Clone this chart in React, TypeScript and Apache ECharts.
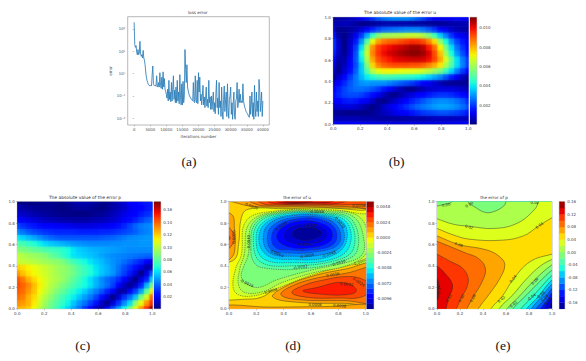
import React, { useEffect, useRef } from "react";
import * as echarts from "echarts";

const FONT = "DejaVu Sans";
const TEXT = "#444";
const SPINE = "#8a8a8a";

// (a) loss curve, one reading every 200 iterations
const lossStep = 200;
const lossValues = [
  200, 20, 15, 18, 9, 7, 12, 7, 8, 28, 8, 6, 7, 5, 11, 5, 4, 2.5, 1.2, 0.7,
  0.5, 0.4, 0.33, 0.3, 0.3, 0.28, 0.3, 0.28, 0.9, 2.2, 0.35, 0.3, 0.28, 0.3, 0.27, 0.8, 0.28, 0.25, 0.4, 0.25,
  1.1, 0.3, 0.22, 0.7, 0.2, 1.2, 0.25, 0.6, 0.2, 0.16, 0.12, 0.08, 0.2, 0.06, 0.5, 0.07, 0.15, 0.055, 0.4, 0.06,
  0.06, 0.8, 0.07, 0.18, 0.05, 0.25, 0.05, 0.5, 0.06, 0.15, 0.045, 0.9, 0.1, 0.04, 0.35, 0.04, 0.45, 0.05, 0.1, 12,
  1.5, 0.4, 2.5, 0.25, 0.17, 0.13, 0.1, 0.09, 0.08, 0.07, 0.065, 0.06, 0.4, 0.055, 0.05, 0.8, 0.06, 0.05, 0.5, 0.045,
  1.1, 0.15, 0.7, 0.06, 0.12, 0.04, 0.1, 0.3, 0.04, 0.09, 0.03, 0.08, 0.25, 0.035, 0.07, 0.03, 0.5, 0.05, 0.09, 0.025,
  0.1, 0.025, 0.06, 0.15, 0.02, 0.05, 0.016, 0.12, 0.5, 0.03, 0.08, 0.015, 0.4, 0.03, 0.06, 0.012, 0.25, 0.02, 0.009, 0.07,
  0.28, 0.02, 0.06, 0.15, 0.012, 0.35, 0.03, 0.01, 0.07, 0.1, 0.25, 0.015, 0.05, 0.009, 0.05, 0.15, 0.012, 0.009, 0.06, 0.08,
  0.4, 0.03, 0.05, 0.2, 0.05, 0.12, 0.05, 0.06, 0.05, 0.35, 0.06, 0.04, 0.03, 0.025, 0.02, 0.018, 0.016, 0.014, 0.012, 0.011,
  0.1, 0.015, 0.04, 0.15, 0.012, 0.05, 0.009, 0.3, 0.03, 0.012, 0.15, 0.02, 0.06, 0.012, 0.55, 0.2, 0.02, 0.05, 0.15, 0.012, 0.06,
];
const lossXTicks = [0, 5000, 10000, 15000, 20000, 25000, 30000, 35000, 40000];

// (b) |error of u| x 1e4; rows run from y=0 to y=1, columns from x=0 to x=1
const absU = [
  [14,14,13,13,12,12,11,11,11,10,10,10,10,10,10,10,10,10,10,10,10,11,11,12,12],
  [5,5,5,5,5,4,4,4,3,3,3,3,3,3,4,4,4,5,6,6,6,6,6,6,5],
  [2,2,1,1,1,1,1,2,4,6,8,10,12,14,16,18,20,21,22,23,23,22,21,19,16],
  [7,8,9,9,8,6,3,1,3,7,10,13,16,19,22,25,27,29,31,32,32,31,29,26,22],
  [12,14,16,17,16,14,11,7,2,1,4,7,10,14,17,20,23,26,28,29,29,28,26,23,18],
  [15,18,21,22,22,21,18,15,11,6,2,1,4,7,9,12,14,16,18,19,19,18,16,14,11],
  [13,17,21,24,26,26,25,23,20,16,12,8,5,2,1,3,5,7,8,9,9,9,8,7,5],
  [7,13,18,23,27,30,31,30,30,30,28,26,24,22,20,17,14,11,8,5,3,2,2,2,2],
  [1,7,14,20,27,34,40,44,47,48,48,47,46,45,44,42,40,37,33,29,23,17,11,6,3],
  [6,2,8,15,24,36,50,64,70,72,72,72,71,70,70,69,67,64,60,55,47,38,28,20,13],
  [10,2,6,13,22,36,56,76,86,90,92,93,93,93,92,92,90,86,81,74,62,50,38,28,20],
  [14,4,4,11,23,40,62,82,92,96,99,101,102,103,104,104,103,100,93,82,68,52,38,27,20],
  [17,6,2,9,22,42,66,86,95,100,103,105,107,109,110,110,108,102,92,78,60,42,30,22,15],
  [19,7,1,8,20,38,62,84,94,98,100,102,104,106,108,108,105,98,88,72,54,38,26,19,13],
  [19,6,1,7,16,30,50,70,82,87,89,90,92,94,96,95,92,85,75,58,42,30,21,16,11],
  [15,3,1,5,11,20,32,46,56,60,61,62,63,65,66,65,62,56,47,36,27,19,14,11,8],
  [8,1,2,3,5,8,12,17,21,24,25,26,27,28,28,28,26,23,19,14,10,7,5,4,3],
  [5,5,6,5,3,1,1,2,3,4,4,4,4,4,3,3,3,2,2,2,3,4,4,5,5],
  [1,3,4,6,8,12,16,20,24,27,29,30,30,30,28,25,21,17,14,12,12,14,15,14,12],
];
const absUScale = 1e-4;
const absURange = [0, 0.0111];
const absUTicks = [0.002, 0.004, 0.006, 0.008, 0.01];

// (c) |error of p| x 1e3; rows run from y=0 to y=1
const absP = [
  [125,123,120,110,100,90,82,75,65,58,50,42,30,20,8,5,20,35,50,65,85,110,130,150,173],
  [132,130,125,115,104,93,85,78,71,64,56,48,42,33,25,12,2,14,30,45,60,90,110,130,150],
  [138,135,125,118,107,98,90,82,75,68,63,56,49,43,34,24,14,1,13,30,40,55,85,105,140],
  [142,138,130,122,112,103,96,88,82,75,69,63,58,50,44,37,28,20,7,6,18,32,50,80,112],
  [145,140,133,123,114,106,99,94,87,82,76,71,66,61,53,47,41,33,20,10,3,11,27,53,85],
  [143,135,125,118,112,106,101,97,93,87,80,74,66,60,53,46,40,36,30,22,12,1,15,27,58],
  [130,122,116,112,108,104,100,96,92,89,84,78,73,68,62,56,52,48,40,33,26,15,1,15,37],
  [120,117,113,110,106,103,99,95,92,89,83,77,72,67,61,56,52,48,42,35,30,24,16,7,8],
  [103,101,100,98,96,94,92,90,87,80,74,70,65,61,57,54,50,47,44,41,37,32,28,20,15],
  [101,98,95,93,91,88,82,78,72,66,61,59,57,55,53,50,48,46,45,44,43,42,41,40,40],
  [88,86,84,81,79,76,74,72,70,66,61,57,55,53,52,51,50,49,48,47,46,46,46,46,46],
  [78,75,71,68,63,59,56,54,52,50,48,47,46,45,45,45,45,46,46,47,47,47,48,48,48],
  [62,58,54,50,46,42,39,37,36,36,36,36,36,36,36,37,38,39,41,43,45,46,47,48,48],
  [45,41,37,34,32,30,29,28,28,28,28,27,27,27,27,28,28,29,31,33,35,38,42,44,46],
  [34,30,27,25,23,21,20,19,18,17,16,15,15,15,16,17,18,20,24,28,33,39,43,45,47],
  [21,18,16,14,12,10,9,8,7,6,6,6,6,7,8,9,10,12,15,19,23,27,32,37,40],
  [13,11,9,7,6,5,4,3,2,2,1,1,1,2,3,4,6,9,12,16,19,22,26,29,32],
  [8,6,5,4,3,3,3,2,1,2,4,5,5,4,2,1,3,6,9,12,17,20,22,25,27],
  [2,1,1,1,3,3,3,2,1,4,6,8,8,7,5,2,3,6,10,13,20,22,24,26,28],
];
const absPScale = 1e-3;
const absPRange = [0.0006, 0.1734];
const absPTicks = [0.02, 0.04, 0.06, 0.08, 0.1, 0.12, 0.14, 0.16];

// (d) error of u: contour levels and contour outlines [level, side, x0,y0,x1,y1,...]
const uLevels = [-0.0112, -0.0104, -0.0096, -0.0088, -0.008, -0.0072, -0.0064, -0.0056, -0.0048, -0.004, -0.0032, -0.0024, -0.0016, -0.0008, 0, 0.0008, 0.0016, 0.0024, 0.0032, 0.004, 0.0048, 0.0056];
const uTicks = [-0.0096, -0.0072, -0.0048, -0.0024, 0, 0.0024, 0.0048];
const uBackgroundBand = 0.0004;
const uContours: [number, number, number[]][] = [
  [0, -1, [.07,.6,.09,.85,.14,.93,.4,.935,.74,.94,.95,.92,1.1,.9,1.1,.47,1,.46,.8,.39,.5,.29,.34,.2,.26,.12,.15,.09,-.1,.12,-.1,.39,.04,.46]],
  [-.0008, -1, [.09,.5,.125,.82,.32,.91,.74,.925,.95,.89,1.1,.85,1.1,.45,.9,.41,.62,.32,.32,.175,.18,.12,.07,.13,.03,.2,.05,.38]],
  [-.0016, -1, [.11,.5,.15,.8,.34,.905,.74,.915,.94,.87,1.02,.7,1.02,.55,.9,.42,.6,.33,.38,.24,.25,.16,.12,.15,.07,.22,.08,.38]],
  [-.0024, -1, [.14,.5,.175,.8,.36,.9,.74,.905,.92,.85,.99,.62,.97,.5,.88,.44,.6,.36,.35,.27,.22,.2,.13,.23,.09,.3,.11,.4]],
  [-.0032, -1, [.16,.55,.195,.8,.38,.895,.72,.895,.9,.83,.94,.55,.82,.44,.5,.37,.26,.38,.19,.42]],
  [-.004, -1, [.18,.58,.215,.8,.4,.89,.7,.89,.88,.82,.91,.56,.78,.45,.45,.4,.24,.43]],
  [-.0048, -1, [.2,.6,.235,.79,.42,.885,.68,.885,.86,.81,.88,.58,.75,.46,.45,.43,.26,.46]],
  [-.0056, -1, [.22,.62,.26,.79,.44,.875,.68,.875,.84,.8,.85,.6,.72,.48,.45,.46,.29,.49]],
  [-.0064, -1, [.25,.65,.29,.79,.46,.87,.68,.865,.82,.78,.83,.6,.7,.51,.45,.49,.3,.52]],
  [-.0072, -1, [.28,.66,.32,.78,.48,.855,.68,.85,.8,.76,.8,.6,.63,.53,.42,.52,.31,.55]],
  [-.008, -1, [.31,.66,.35,.77,.5,.84,.68,.83,.78,.74,.77,.61,.62,.55,.42,.55,.34,.57]],
  [-.0088, -1, [.35,.66,.39,.76,.52,.82,.67,.8,.75,.73,.74,.63,.6,.57,.43,.58]],
  [-.0096, -1, [.4,.67,.44,.75,.54,.79,.65,.78,.72,.72,.7,.65,.6,.61,.47,.61]],
  [-.0104, -1, [.46,.69,.49,.74,.56,.76,.63,.75,.68,.71,.66,.67,.58,.64,.5,.65]],
  [.0008, 1, [.32,.11,.4,.2,.6,.3,.85,.37,1.1,.42,1.1,.05,.85,.05,.5,.06]],
  [.0016, 1, [.38,.13,.44,.2,.62,.28,.85,.33,1.1,.38,1.1,.07,.85,.075,.5,.085]],
  [.0024, 1, [.46,.15,.55,.22,.7,.27,.85,.3,.97,.28,1.05,.2,.97,.11,.8,.1,.58,.105]],
  [.0032, 1, [.54,.165,.65,.2,.8,.245,.9,.22,.93,.16,.85,.13,.68,.135]],
  [.0008, 1, [-.1,.02,.3,.015,.7,.02,1.1,.025,1.1,-.1,-.1,-.1]],
  [.0008, 1, [-.1,.41,.02,.48,.045,.6,.04,.75,.02,.88,-.1,.9]],
  [.0016, 1, [-.1,.5,.025,.6,.025,.72,-.1,.83]],
  [.0024, 1, [-.1,.6,.01,.66,-.1,.74]],
  [.0008, 1, [-.1,1.05,.05,.99,.15,.96,.3,.95,.6,.95,.85,.94,.95,.94,1.1,.93,1.1,1.1,-.1,1.1]],
  [.0016, 1, [.1,1.05,.2,.975,.3,.96,.6,.96,.85,.955,1.1,.95,1.1,1.1,.1,1.1]],
  [.0024, 1, [.17,1.05,.25,.98,.35,.97,.6,.97,.8,.97,.95,.975,1.05,.98,1.1,1.1,.17,1.1]],
  [.0032, 1, [.24,1.05,.32,.985,.6,.98,.8,.985,.92,1.05,.9,1.1,.24,1.1]],
  [.004, 1, [.3,1.05,.38,.99,.6,.99,.74,.995,.82,1.05,.8,1.1,.3,1.1]],
  [.0048, 1, [.36,1.05,.42,.995,.58,.995,.68,1.05,.6,1.1]],
];
const uLabels: [number, number, string, number][] = [
  [.166,.96,"0.0008",-20],[.64,.906,"-0.0048",0],[.38,.77,"-0.0088",35],[.6,.775,"-0.0104",5],
  [.81,.81,"-0.0072",-50],[.56,.6,"-0.0096",0],[.35,.52,"-0.0064",-25],[.57,.495,"-0.0056",10],
  [.73,.51,"-0.0048",20],[.52,.39,"-0.0032",10],[.8,.43,"-0.0016",15],[.13,.24,"-0.0024",-25],
  [.3,.165,"-0.0008",15],[.96,.44,"0.0000",20],[.76,.32,"0.0016",10],[.95,.25,"0.0024",-35],
  [.86,.23,"0.0032",-5],[.63,.035,"0.0008",0],[.81,.03,"0.0008",-5],[.14,.62,"-0.0040",90],
  [.03,.67,"0.0016",90],[.95,.96,"0.0016",0],
];

// (e) error of p
const pLevels = [-0.18, -0.16, -0.14, -0.12, -0.1, -0.08, -0.06, -0.04, -0.02, 0, 0.02, 0.04, 0.06, 0.08, 0.1, 0.12, 0.14, 0.16];
const pTicks = [-0.16, -0.12, -0.08, -0.04, 0, 0.04, 0.08, 0.12, 0.16];
const pBackgroundBand = -0.17;
const pContours: [number, number, number[]][] = [
  [-.16, 1, [.95,-.1,.97,0,1,.06,1.1,.1,1.2,1.2,-.2,1.2,-.2,-.2]],
  [-.14, 1, [.9,-.1,.93,0,1,.11,1.1,.16,1.2,1.2,-.2,1.2,-.2,-.2]],
  [-.12, 1, [.87,-.1,.9,0,.96,.08,1,.15,1.1,.2,1.2,1.2,-.2,1.2,-.2,-.2]],
  [-.1, 1, [.82,-.1,.86,0,.93,.08,1,.19,1.1,.26,1.2,1.2,-.2,1.2,-.2,-.2]],
  [-.08, 1, [.77,-.1,.82,0,.9,.1,1,.23,1.1,.3,1.2,1.2,-.2,1.2,-.2,-.2]],
  [-.06, 1, [.73,-.1,.78,0,.87,.1,1,.27,1.1,.34,1.2,1.2,-.2,1.2,-.2,-.2]],
  [-.04, 1, [.67,-.1,.73,0,.82,.1,.92,.22,1,.31,1.1,.38,1.2,1.2,-.2,1.2,-.2,-.2]],
  [-.02, 1, [.6,-.1,.66,0,.78,.13,.9,.26,1,.36,1.1,.42,1.2,1.2,-.2,1.2,-.2,-.2]],
  [0, 1, [.56,-.1,.61,0,.72,.12,.85,.27,1,.41,1.1,.46,1.2,1.2,-.2,1.2,-.2,-.2]],
  [0, -1, [.25,1.1,.27,1,.33,.95,.42,.9,.5,.91,.58,.96,.6,1,.62,1.1]],
  [0, -1, [-.1,.95,0,.96,.08,.98,.13,1,.16,1.1,-.1,1.1]],
  [.02, 1, [.5,-.1,.54,0,.66,.13,.78,.28,.9,.4,1,.46,1.1,.5,1.1,1.1,.9,1.1,.88,1,.85,.93,.7,.8,.5,.75,.28,.77,.14,.79,0,.84,-.1,.87,-.2,-.2]],
  [.04, 1, [.43,-.1,.47,0,.57,.12,.66,.27,.81,.44,1,.51,1.1,.53,1.1,.9,1,.85,.88,.77,.75,.68,.56,.64,.28,.65,.14,.69,0,.75,-.1,.79,-.2,-.2]],
  [.06, 1, [.32,-.1,.36,0,.45,.13,.54,.27,.59,.41,.54,.49,.43,.55,.19,.6,0,.68,-.1,.72,-.2,-.2]],
  [.08, 1, [.22,-.1,.26,0,.31,.1,.4,.27,.42,.38,.36,.47,.25,.52,0,.63,-.1,.67,-.2,-.2]],
  [.1, 1, [.13,-.1,.17,0,.21,.1,.26,.2,.27,.29,.22,.38,.12,.44,0,.51,-.1,.56,-.2,-.2]],
  [.12, 1, [.05,-.1,.08,0,.1,.1,.13,.17,.13,.24,.07,.33,0,.4,-.1,.46,-.2,-.2]],
  [.14, 1, [-.1,.05,0,.08,.015,.18,0,.28,-.1,.32]],
];
const pLabels: [number, number, string, number][] = [
  [.08,.97,"0.00",10],[.28,.975,"0.00",30],[.85,.995,"0.02",0],[.28,.765,"0.02",-15],
  [.89,.78,"0.04",35],[.19,.6,"0.06",-20],[.015,.18,"0.14",90],[.1,.1,"0.12",60],
  [.21,.1,"0.10",60],[.31,.1,"0.08",60],[.66,.28,"0.04",50],[.85,.26,"0.00",45],
  [.56,.09,"0.02",40],[.66,.04,"-0.02",40],[.82,.11,"-0.04",35],[.9,.13,"-0.06",40],
  [.93,.1,"-0.08",45],[.96,.07,"-0.10",50],
];

const RED = [[0, 0], [0.35, 0], [0.66, 1], [0.89, 1], [1, 0.5]];
const GREEN = [[0, 0], [0.125, 0], [0.375, 1], [0.64, 1], [0.91, 0], [1, 0]];
const BLUE = [[0, 0.5], [0.11, 1], [0.34, 1], [0.65, 0], [1, 0]];
function channel(table: number[][], t: number) {
  for (let i = 1; i < table.length; i++) {
    if (t <= table[i][0]) {
      const [a, va] = table[i - 1];
      const [b, vb] = table[i];
      return Math.round(255 * (va + ((vb - va) * (t - a)) / (b - a)));
    }
  }
  return Math.round(255 * table[table.length - 1][1]);
}
function jet(t: number) {
  const c = Math.max(0, Math.min(1, t));
  return `rgb(${channel(RED, c)},${channel(GREEN, c)},${channel(BLUE, c)})`;
}

const BOX = {
  a: { left: 127.7, top: 16.7, width: 141.6, height: 108.3 },
  b: { left: 333.3, top: 17.3, width: 135, height: 107 },
  bBar: { left: 470, top: 17.3, width: 6.7, height: 107 },
  c: { left: 17.3, top: 201.7, width: 135, height: 107 },
  cBar: { left: 154, top: 201.7, width: 6.7, height: 107 },
  d: { left: 229, top: 201.7, width: 136.7, height: 107 },
  dBar: { left: 366.7, top: 201.7, width: 7, height: 107 },
  e: { left: 437, top: 201.7, width: 115, height: 107 },
  eBar: { left: 559.3, top: 201.7, width: 5.4, height: 107 },
};

const unitAxis = (gridIndex: number, font: number) => ({
  type: "value", gridIndex, min: 0, max: 1, interval: 0.2,
  splitLine: { show: false },
  axisLine: { show: false },
  axisTick: { show: true, length: 1.5, lineStyle: { color: SPINE, width: 0.5 } },
  axisLabel: { fontSize: font, fontFamily: FONT, color: TEXT, margin: 2.5, formatter: (v: number) => v.toFixed(1) },
});
const hiddenAxis = (gridIndex: number) => ({ type: "value", gridIndex, min: 0, max: 1, show: false });
const barAxis = (gridIndex: number, min: number, max: number, ticks: number[], digits: number) => ({
  type: "value", gridIndex, min, max, position: "right",
  splitLine: { show: false },
  axisLine: { show: false },
  axisTick: { show: true, length: 1.5, customValues: ticks, lineStyle: { color: SPINE, width: 0.5 } },
  axisLabel: { customValues: ticks, fontSize: 4, fontFamily: FONT, color: TEXT, margin: 2.5, formatter: (v: number) => v.toFixed(digits) },
});

// Each read row is one strip whose gradient has one stop per read value; the columns lie over it at half strength.
function heatStrips(index: number, rows: number[][], scale: number, range: number[], byColumn: boolean) {
  const nRows = rows.length, nCols = rows[0].length;
  const strips = byColumn
    ? rows[0].map((_, i) => rows.map((r) => r[i]))
    : rows;
  const half = (byColumn ? 1 / (nCols - 1) : 1 / (nRows - 1)) / 2;
  const paints = strips.map((s) => {
    const stops = s.map((v, k) => ({
      offset: k / (s.length - 1),
      color: jet((v * scale - range[0]) / (range[1] - range[0])),
    }));
    return byColumn
      ? new echarts.graphic.LinearGradient(0, 1, 0, 0, stops)
      : new echarts.graphic.LinearGradient(0, 0, 1, 0, stops);
  });
  return {
    type: "custom", xAxisIndex: index, yAxisIndex: index, clip: true, silent: true,
    data: strips.map((_, k) => [k / (strips.length - 1), k / (strips.length - 1), k]),
    renderItem: (params: any, api: any) => {
      const k = params.dataIndex;
      const c = k / (strips.length - 1);
      const a = byColumn ? api.coord([c - half, 1]) : api.coord([0, c + half]);
      const b = byColumn ? api.coord([c + half, 0]) : api.coord([1, c - half]);
      return {
        type: "rect",
        shape: { x: a[0], y: a[1], width: b[0] - a[0] + (byColumn ? 0 : 0), height: b[1] - a[1] + (byColumn ? 0 : 0.5) },
        style: { fill: paints[k], opacity: byColumn ? 0.5 : 1 },
      };
    },
  };
}

function gradientBar(index: number, range: number[]) {
  const colorStops: { offset: number; color: string }[] = [];
  for (let k = 0; k <= 20; k++) colorStops.push({ offset: k / 20, color: jet(k / 20) });
  return {
    type: "custom", xAxisIndex: index, yAxisIndex: index, silent: true,
    data: [[0, range[0], range[1]]],
    renderItem: (_: any, api: any) => {
      const a = api.coord([0, api.value(2)]);
      const b = api.coord([1, api.value(1)]);
      return {
        type: "rect",
        shape: { x: a[0], y: a[1], width: b[0] - a[0], height: b[1] - a[1] },
        style: { fill: new echarts.graphic.LinearGradient(0, 1, 0, 0, colorStops) },
      };
    },
  };
}

function bandBar(index: number, levels: number[]) {
  const lo = levels[0], hi = levels[levels.length - 1];
  const data = levels.slice(0, -1).map((l, i) => [0, l, levels[i + 1]]);
  return {
    type: "custom", xAxisIndex: index, yAxisIndex: index, silent: true, data,
    renderItem: (_: any, api: any) => {
      const l = api.value(1), h = api.value(2);
      const a = api.coord([0, h]);
      const b = api.coord([1, l]);
      return {
        type: "rect",
        shape: { x: a[0], y: a[1], width: b[0] - a[0], height: b[1] - a[1] + 0.3 },
        style: { fill: jet(((l + h) / 2 - lo) / (hi - lo)) },
      };
    },
  };
}

function contourSeries(
  index: number, contours: [number, number, number[]][], levels: number[], background: number,
  dashNegative: boolean, lineWidth: number,
) {
  const lo = levels[0], hi = levels[levels.length - 1];
  const step = levels[1] - levels[0];
  const colour = (mid: number) => jet((mid - lo) / (hi - lo));
  const data = [[0, 0, -1], ...contours.map((_, i) => [0, 0, i])];
  return {
    type: "custom", xAxisIndex: index, yAxisIndex: index, clip: true, silent: true, data,
    renderItem: (params: any, api: any) => {
      const i = params.dataIndex - 1;
      if (i < 0) {
        const a = api.coord([0, 1]);
        const b = api.coord([1, 0]);
        return { type: "rect", shape: { x: a[0], y: a[1], width: b[0] - a[0], height: b[1] - a[1] }, style: { fill: colour(background) } };
      }
      const [level, side, flat] = contours[i];
      const points: number[][] = [];
      for (let k = 0; k < flat.length; k += 2) points.push(api.coord([flat[k], flat[k + 1]]));
      return {
        type: "polygon",
        shape: { points, smooth: 0.4 },
        style: {
          fill: colour(level + (side * step) / 2),
          stroke: "#2a2a2a",
          lineWidth,
          lineDash: dashNegative && level < 0 ? [1.4, 0.9] : undefined,
        },
      };
    },
  };
}

function labelSeries(index: number, labels: [number, number, string, number][]) {
  return {
    type: "custom", xAxisIndex: index, yAxisIndex: index, clip: true, silent: true,
    data: labels.map((l, i) => [l[0], l[1], i]),
    renderItem: (params: any, api: any) => {
      const l = labels[params.dataIndex];
      const p = api.coord([api.value(0), api.value(1)]);
      return {
        type: "text", x: p[0], y: p[1], rotation: (l[3] * Math.PI) / 180,
        style: { text: l[2], fontSize: 3.8, fontFamily: FONT, fill: "#222", align: "center", verticalAlign: "middle" },
      };
    },
  };
}

const titleOf = (text: string, cx: number, top: number, size: number) => ({
  text, left: cx, top, textAlign: "center", padding: 0,
  textStyle: { fontSize: size, fontWeight: "normal", fontFamily: FONT, color: "#333" },
});
const captionOf = (text: string, x: number, y: number) => ({
  type: "text", x, y,
  style: { text, font: '13.5px "Liberation Serif", serif', fill: "#111", align: "center", verticalAlign: "middle" },
});

const frame = (b: any) => ({ ...b, show: true, borderColor: SPINE, borderWidth: 0.6, backgroundColor: "transparent", containLabel: false });

export default function App() {
  const ref = useRef<HTMLDivElement>(null);
  useEffect(() => {
    const chart = echarts.init(ref.current!, undefined, { renderer: "svg" });
    const xAxis: any[] = [
      {
        type: "value", gridIndex: 0, min: -2000, max: 42000,
        splitLine: { show: false }, axisLine: { show: false },
        axisTick: { show: true, length: 1.5, customValues: lossXTicks, lineStyle: { color: SPINE, width: 0.5 } },
        axisLabel: { customValues: lossXTicks, fontSize: 3.8, fontFamily: FONT, color: TEXT, margin: 2.5 , formatter: (v: number) => String(v)},
        name: "iterations number", nameLocation: "middle", nameGap: 9.5,
        nameTextStyle: { fontSize: 4, fontFamily: FONT, color: TEXT },
      },
      unitAxis(1, 4), hiddenAxis(2), unitAxis(3, 4), hiddenAxis(4), unitAxis(5, 4), hiddenAxis(6), unitAxis(7, 4), hiddenAxis(8),
    ];
    const SUP: Record<string, string> = { "-": "⁻", "0": "⁰", "1": "¹", "2": "²" };
    const yAxis: any[] = [
      {
        type: "log", gridIndex: 0, min: 0.005, max: 355, logBase: 10,
        splitLine: { show: false }, axisLine: { show: false },
        axisTick: { show: true, length: 1.5, lineStyle: { color: SPINE, width: 0.5 } },
        minorTick: { show: false },
        axisLabel: {
          fontSize: 3.8, fontFamily: FONT, color: TEXT, margin: 2.5, showMinLabel: false, showMaxLabel: false,
          formatter: (v: number) => {
            const e = Math.log10(v);
            if (Math.abs(e - Math.round(e)) > 1e-6) return "";
            return "10" + String(Math.round(e)).split("").map((c) => SUP[c]).join("");
          },
        },
        name: "error", nameLocation: "middle", nameGap: 14.5,
        nameTextStyle: { fontSize: 4, fontFamily: FONT, color: TEXT },
      },
      unitAxis(1, 4),
      barAxis(2, absURange[0], absURange[1], absUTicks, 3),
      unitAxis(3, 4),
      barAxis(4, absPRange[0], absPRange[1], absPTicks, 2),
      unitAxis(5, 4),
      barAxis(6, uLevels[0], uLevels[uLevels.length - 1], uTicks, 4),
      unitAxis(7, 4),
      barAxis(8, pLevels[0], pLevels[pLevels.length - 1], pTicks, 2),
    ];
    chart.setOption({
      animation: false,
      backgroundColor: "#fff",
      title: [
        titleOf("loss error", 197.7, 10.5, 4.2),
        titleOf("The absolute value of the error u", 400, 10.5, 4.4),
        titleOf("The absolute value of the error p", 85, 195, 4.4),
        titleOf("the error of u", 297, 195, 4.2),
        titleOf("the error of p", 494, 195, 4.2),
      ],
      grid: [BOX.a, BOX.b, BOX.bBar, BOX.c, BOX.cBar, BOX.d, BOX.dBar, BOX.e, BOX.eBar].map(frame),
      xAxis,
      yAxis,
      graphic: [
        captionOf("(a)", 189, 161),
        captionOf("(b)", 396.7, 161),
        captionOf("(c)", 82.7, 345.5),
        captionOf("(d)", 293, 345.5),
        captionOf("(e)", 503, 345.5),
      ],
      series: [
        {
          type: "line", xAxisIndex: 0, yAxisIndex: 0, showSymbol: false, symbol: "none",
          lineStyle: { width: 0.85, color: "#2a7db8" },
          data: lossValues.map((v, i) => [i * lossStep, v]),
        },
        heatStrips(1, absU, absUScale, absURange, false),
        heatStrips(1, absU, absUScale, absURange, true),
        gradientBar(2, absURange),
        heatStrips(3, absP, absPScale, absPRange, false),
        heatStrips(3, absP, absPScale, absPRange, true),
        gradientBar(4, absPRange),
        contourSeries(5, uContours, uLevels, uBackgroundBand, true, 0.45),
        labelSeries(5, uLabels),
        bandBar(6, uLevels),
        contourSeries(7, pContours, pLevels, pBackgroundBand, false, 0.45),
        labelSeries(7, pLabels),
        bandBar(8, pLevels),
      ],
    });
    return () => chart.dispose();
  }, []);
  return <div ref={ref} style={{ position: "absolute", left: 0, top: 0, width: 586, height: 361 }} />;
}
